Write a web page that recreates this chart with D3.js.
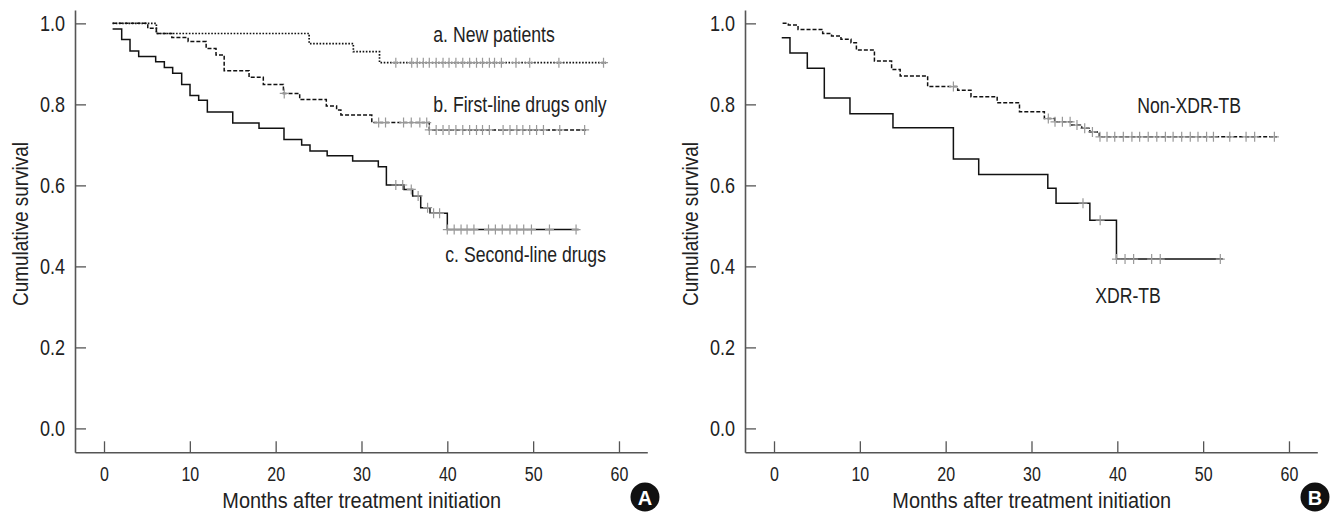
<!DOCTYPE html>
<html>
<head>
<meta charset="utf-8">
<script src="https://cdn.jsdelivr.net/npm/d3@7"></script>
<style>
  body { margin: 0; background: #fff; }
  svg text { font-family: "Liberation Sans", Arial, Helvetica, sans-serif; fill: #222; }
</style>
</head>
<body>
<svg id="chart" width="1335" height="513"></svg>
<script>
// panel A - survival by treatment history
const aTimes = [1, 6.1, 23.9, 29.05, 32.1];
const aSurv = [1.0, 0.975, 0.950, 0.930, 0.903];
const aEnd = 58.6;
const aCensor = [34.0, 35.85, 36.5, 37.2, 37.9, 38.7, 39.5, 40.2, 41.0, 41.8, 42.6, 43.4, 44.1, 44.9, 45.5, 46.3, 48.0, 49.6, 53.0, 58.2];

const bTimes = [1, 5.1, 6.1, 7.9, 9.8, 11.9, 13.05, 14.0, 16.9, 18.56, 20.9, 22.8, 25.9, 27.1, 27.6, 31.2, 37.9];
const bSurv = [1.0, 0.988, 0.975, 0.965, 0.955, 0.938, 0.922, 0.883, 0.867, 0.849, 0.827, 0.812, 0.796, 0.786, 0.774, 0.755, 0.737];
const bEnd = 56.2;
const bCensor = [21.0, 32.0, 32.8, 34.9, 35.8, 36.8, 37.6, 37.9, 38.7, 39.5, 40.2, 41.0, 41.8, 42.6, 43.4, 44.1, 44.9, 46.5, 47.3, 48.1, 48.8, 49.6, 50.4, 51.2, 53.1, 56.0];

const cTimes = [1, 2.06, 3.03, 4.04, 6.02, 7.03, 8.0, 9.05, 10.02, 11.03, 12.04, 15.0, 18.06, 20.97, 23.03, 24.0, 26.0, 28.97, 31.96, 32.9, 34.95, 35.96, 36.9, 37.98, 40.0];
const cSurv = [0.986, 0.960, 0.932, 0.918, 0.905, 0.891, 0.877, 0.849, 0.822, 0.810, 0.781, 0.754, 0.741, 0.713, 0.700, 0.685, 0.673, 0.660, 0.646, 0.601, 0.590, 0.574, 0.545, 0.531, 0.491];
const cEnd = 55.3;
const cCensor = [34.0, 34.8, 35.8, 36.6, 37.7, 38.4, 39.1, 40.0, 40.8, 41.6, 42.3, 43.1, 44.8, 45.6, 46.4, 47.3, 48.1, 48.9, 49.8, 51.9, 55.0];

// panel B - XDR vs non-XDR
const nxTimes = [1.0, 1.67, 2.8, 5.67, 6.7, 7.8, 8.97, 9.6, 11.7, 13.7, 14.7, 17.9, 21.4, 22.95, 26.0, 28.6, 31.5, 32.7, 34.7, 35.85, 36.8, 37.9];
const nxSurv = [1.0, 0.996, 0.985, 0.975, 0.969, 0.961, 0.952, 0.934, 0.907, 0.886, 0.870, 0.844, 0.835, 0.819, 0.804, 0.782, 0.765, 0.757, 0.749, 0.741, 0.732, 0.720];
const nxEnd = 58.6;
const nxCensor = [20.9, 31.96, 32.74, 33.6, 34.5, 35.3, 36.2, 37.1, 37.98, 38.8, 39.7, 40.7, 41.7, 42.6, 43.6, 44.6, 45.6, 46.5, 47.5, 48.5, 49.4, 50.4, 51.2, 53.1, 55.0, 56.0, 58.3];

const xdrTimes = [0.9, 1.86, 3.88, 5.86, 8.85, 13.86, 20.9, 23.85, 31.9, 32.86, 36.8, 39.9];
const xdrSurv = [0.9645, 0.927, 0.889, 0.816, 0.777, 0.742, 0.665, 0.627, 0.593, 0.556, 0.514, 0.418];
const xdrEnd = 52.3;
const xdrCensor = [36.0, 38.0, 39.9, 40.9, 41.9, 44.0, 45.0, 52.0];

const xTicks = [0, 10, 20, 30, 40, 50, 60];
const yTicks = [0, 0.2, 0.4, 0.6, 0.8, 1.0];

const NARROW = 0.82;  // squeeze Liberation Sans toward a condensed face

const svg = d3.select('#chart');

const x = d3.scaleLinear().domain([-3.38, 63.3]).range([75, 647.3]);
const y = d3.scaleLinear().domain([-0.059, 1.033]).range([452.3, 10]);

const line = d3.line()
  .x(d => x(d[0]))
  .y(d => y(d[1]))
  .curve(d3.curveStepAfter);

// text placed at (tx,ty) but squeezed horizontally
function narrowText(g, tx, ty, str, size, anchor, sx) {
  return g.append('text')
    .attr('transform', `translate(${tx},${ty}) scale(${sx || NARROW},1)`)
    .attr('text-anchor', anchor)
    .style('font-size', size + 'px')
    .text(str);
}

function drawPanel(dx, curves, labels, badge) {
  const g = svg.append('g').attr('transform', `translate(${dx},0)`);

  const yAxis = g.append('g')
    .attr('transform', 'translate(75,0)')
    .call(d3.axisLeft(y).tickValues(yTicks).tickFormat(d3.format('.1f'))
      .tickSizeInner(-11).tickSizeOuter(0).tickPadding(10));
  yAxis.selectAll('text')
    .style('font-size', '22px')
    .attr('x', -10 / NARROW)
    .attr('transform', `scale(${NARROW},1)`);

  const xAxis = g.append('g')
    .attr('transform', 'translate(0,452.3)')
    .call(d3.axisBottom(x).tickValues(xTicks).tickFormat(d3.format('d'))
      .tickSizeInner(-11).tickSizeOuter(0).tickPadding(14.5));
  xAxis.selectAll('text')
    .style('font-size', '19.5px')
    .attr('transform', `scale(${NARROW},1)`);

  g.selectAll('.domain').attr('stroke', '#555').attr('stroke-width', 1.6);
  g.selectAll('.tick line').attr('stroke', '#555').attr('stroke-width', 1.3);

  g.append('text')
    .attr('transform', 'translate(28,224) rotate(-90) scale(0.86,1)')
    .attr('text-anchor', 'middle')
    .style('font-size', '22px')
    .text('Cumulative survival');

  narrowText(g, 361.7, 508, 'Months after treatment initiation', 22, 'middle', 0.905);

  curves.forEach(c => {
    const pts = c.times.map((t, i) => [t, c.surv[i]]);
    pts.push([c.end, c.surv[c.surv.length - 1]]);
    g.append('path')
      .datum(pts)
      .attr('fill', 'none')
      .attr('stroke', '#111')
      .attr('stroke-width', c.width)
      .attr('stroke-dasharray', c.dash)
      .attr('d', line);

    const survAt = t => c.surv[Math.max(0, d3.bisectRight(c.times, t) - 1)];
    const marks = g.append('g');
    marks.selectAll('path')
      .data(c.censor)
      .enter()
      .append('path')
      .attr('d', t => {
        const px = x(t), py = y(survAt(t));
        return `M${px - 4.5},${py}H${px + 4.5}M${px},${py - 5}V${py + 5}`;
      })
      .attr('stroke', '#999')
      .attr('stroke-width', 1.2)
      .attr('fill', 'none');
  });

  labels.forEach(l => narrowText(g, l.x, l.y, l.text, 21.5, l.anchor));

  g.append('circle').attr('cx', 645).attr('cy', 497).attr('r', 14.5).attr('fill', '#111');
  g.append('text')
    .attr('x', 645).attr('y', 504.5)
    .attr('text-anchor', 'middle')
    .style('font-size', '20px')
    .style('font-weight', 'bold')
    .style('fill', '#fff')
    .text(badge);
}

drawPanel(0, [
  { times: aTimes, surv: aSurv, end: aEnd, censor: aCensor, dash: '1.6,1.6', width: 1.7 },
  { times: bTimes, surv: bSurv, end: bEnd, censor: bCensor, dash: '4,2', width: 1.5 },
  { times: cTimes, surv: cSurv, end: cEnd, censor: cCensor, dash: null, width: 1.5 }
], [
  { text: 'a. New patients', x: 433.3, y: 41.7, anchor: 'start' },
  { text: 'b. First-line drugs only', x: 433.3, y: 111.7, anchor: 'start' },
  { text: 'c. Second-line drugs', x: 606, y: 261.7, anchor: 'end' }
], 'A');

drawPanel(670, [
  { times: nxTimes, surv: nxSurv, end: nxEnd, censor: nxCensor, dash: '4,2', width: 1.5 },
  { times: xdrTimes, surv: xdrSurv, end: xdrEnd, censor: xdrCensor, dash: null, width: 1.5 }
], [
  { text: 'Non-XDR-TB', x: 467.3, y: 113.3, anchor: 'start' },
  { text: 'XDR-TB', x: 458, y: 303, anchor: 'middle' }
], 'B');
</script>
</body>
</html>
